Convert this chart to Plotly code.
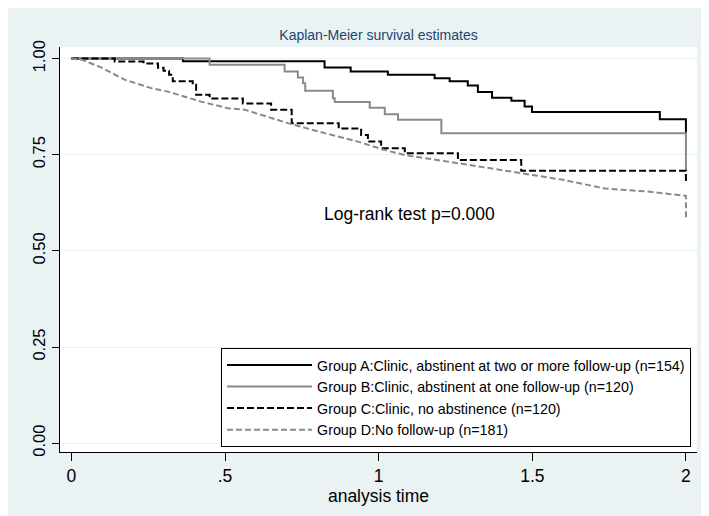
import plotly.graph_objects as go

# ---- data ----
names = [
    "Group A:Clinic, abstinent at two or more follow-up (n=154)",
    "Group B:Clinic, abstinent at one follow-up (n=120)",
    "Group C:Clinic, no abstinence (n=120)",
    "Group D:No follow-up (n=181)",
]

a_t = [0, 0.363, 0.824, 0.909, 1.03, 1.182, 1.231, 1.29, 1.323, 1.369, 1.432, 1.475, 1.499, 1.915, 2.0, 2.0]
a_s = [1.0, 0.993, 0.977, 0.966, 0.958, 0.949, 0.941, 0.930, 0.913, 0.898, 0.890, 0.875, 0.861, 0.842, 0.842, 0.803]

b_t = [0, 0.45, 0.694, 0.737, 0.754, 0.761, 0.851, 0.857, 0.971, 1.02, 1.063, 1.204, 2.0, 2.0]
b_s = [1.0, 0.984, 0.966, 0.951, 0.936, 0.916, 0.897, 0.887, 0.872, 0.855, 0.841, 0.806, 0.806, 0.710]

c_t = [0, 0.141, 0.235, 0.282, 0.300, 0.318, 0.330, 0.395, 0.406, 0.45, 0.558, 0.65, 0.717,
       0.870, 0.943, 0.965, 1.008, 1.085, 1.258, 1.464, 2.0, 2.0]
c_s = [1.0, 0.992, 0.987, 0.976, 0.968, 0.958, 0.941, 0.932, 0.906, 0.896, 0.883, 0.867, 0.832,
       0.818, 0.801, 0.784, 0.767, 0.754, 0.736, 0.708, 0.708, 0.680]

d_t = [0, 0.033, 0.097, 0.173, 0.26, 0.314, 0.422, 0.509, 0.564, 0.705, 0.824, 0.933, 1.02,
       1.085, 1.258, 1.42, 1.475, 1.605, 1.736, 1.877, 2.0, 2.0]
d_s = [1.0, 0.997, 0.977, 0.945, 0.923, 0.914, 0.888, 0.871, 0.867, 0.832, 0.806, 0.784, 0.762,
       0.749, 0.728, 0.707, 0.700, 0.684, 0.662, 0.654, 0.643, 0.587]

x_ticks = [0, 0.5, 1, 1.5, 2]
x_ticklabels = ["0", ".5", "1", "1.5", "2"]
y_ticks = [0, 0.25, 0.5, 0.75, 1.0]
y_ticklabels = ["0.00", "0.25", "0.50", "0.75", "1.00"]

BG = "#EAF2F3"
GRAY = "#8a8a8a"

fig = go.Figure()
styles = [
    dict(color="black", width=2, dash="solid", shape="hv"),
    dict(color=GRAY, width=2, dash="solid", shape="hv"),
    dict(color="black", width=2, dash="7px,3px", shape="hv"),
    dict(color=GRAY, width=2, dash="6px,3px", shape="linear"),
]
series = [(a_t, a_s), (b_t, b_s), (c_t, c_s), (d_t, d_s)]
for i, ((t, s), st, nm) in enumerate(zip(series, styles, names)):
    fig.add_trace(go.Scatter(
        x=t, y=s, mode="lines", name=nm, legendgroup=f"g{i}",
        line=dict(color=st["color"], width=st["width"], dash=st["dash"], shape=st["shape"]),
    ))

fig.add_annotation(x=1.099, y=0.597, xref="x", yref="y", text="Log-rank test p=0.000",
                   showarrow=False, font=dict(size=17.5, color="black", family="Liberation Sans, Arial"))

fig.update_layout(
    width=709, height=516,
    paper_bgcolor=BG, plot_bgcolor="white",
    margin=dict(l=52, r=20, t=39, b=72),
    font=dict(family="Liberation Sans, Arial", color="black"),
    title=dict(text="Kaplan-Meier survival estimates", x=0.5, xref="paper",
               y=1 - 27 / 516, yref="container", xanchor="center", yanchor="middle",
               font=dict(size=14, color="#1a476f")),
    legend=dict(x=0.9906, y=0.012, xanchor="right", yanchor="bottom",
                bgcolor="white", bordercolor="black", borderwidth=1,
                font=dict(size=14.3, color="black"), itemwidth=85,
                tracegroupgap=8, traceorder="normal"),
    xaxis=dict(range=[-0.037, 2.036], tickvals=x_ticks, ticktext=x_ticklabels,
               showgrid=False, zeroline=False, showline=True, linecolor="black", linewidth=1,
               ticks="outside", ticklen=8, tickcolor="black", tickfont=dict(size=17.5),
               title=dict(text="analysis time", font=dict(size=17.5), standoff=0)),
    yaxis=dict(range=[-0.023, 1.030], tickvals=y_ticks, ticktext=y_ticklabels,
               showgrid=True, gridcolor=BG, gridwidth=1, zeroline=False,
               showline=True, linecolor="black", linewidth=1,
               ticks="outside", ticklen=7, tickcolor="black", tickfont=dict(size=16.5),
               tickangle=-90),
)

fig.write_html("out.html")
